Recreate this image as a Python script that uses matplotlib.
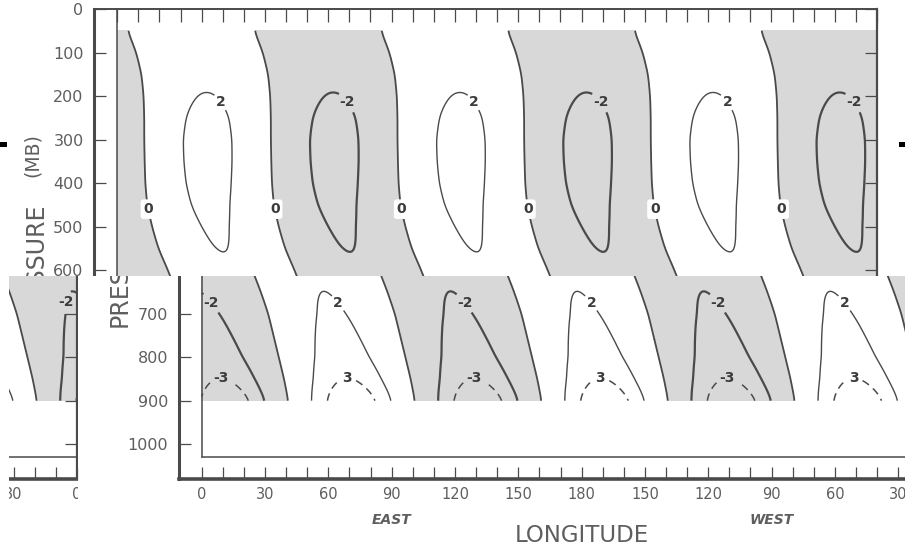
import numpy as np
import matplotlib
matplotlib.use("Agg")
import matplotlib.pyplot as plt
from matplotlib.ticker import FixedLocator
from matplotlib.transforms import Bbox, TransformedBbox
from matplotlib.patches import Rectangle
from matplotlib.text import Text

W, H = 905, 546
INK = "#4a4a4a"
TEXT = "#5e5e5e"
SHADE = "#d8d8d8"

# wave: amplitude and longitude of the first zero line
P_LEVELS = [50, 100, 150, 200, 250, 300, 350, 400, 450, 500, 550, 600,
            650, 700, 750, 800, 850, 900]
AMPLITUDE = [0.8, 1.3, 1.75, 2.05, 2.32, 2.43, 2.42, 2.36, 2.25, 2.12, 2.02, 1.9,
             2.0, 2.13, 2.32, 2.55, 3.0, 3.67]
PHASE = [5, 9, 11.5, 12.5, 12.8, 12.8, 13.0, 13.3, 14.2, 16.5, 19.5, 24,
         28, 31.5, 34, 36.5, 39, 41]

LON_TICKS = list(range(0, 361, 30))
LON_LABELS = ["0", "30", "60", "90", "120", "150", "180",
              "150", "120", "90", "60", "30", "0"]
P_TICKS = list(range(0, 1001, 100))
P_LABELS = [str(v) for v in P_TICKS]


def build_field():
    p = np.arange(50, 901, 2.0)
    lon = np.linspace(0, 360, 721)
    amp = np.interp(p, P_LEVELS, AMPLITUDE)
    ph = np.interp(p, P_LEVELS, PHASE)
    # light smoothing so the contours do not kink at the read levels
    k = np.exp(-0.5 * (np.arange(-15, 16) / 6.0) ** 2)
    k /= k.sum()
    amp = np.convolve(np.pad(amp, 15, mode="edge"), k, mode="valid")
    ph = np.convolve(np.pad(ph, 15, mode="edge"), k, mode="valid")
    f = amp[:, None] * np.sin(np.deg2rad(3 * (lon[None, :] - ph[:, None])))
    return lon, p, f


def phase_at(p):
    return float(np.interp(p, P_LEVELS, PHASE))


def label_spots():
    zero = [(phase_at(460) + 60 * k, 460) for k in range(6)]
    up = phase_at(222) + 30 + 4
    pos_up = [(up + 120 * k, 222) for k in range(3)]
    neg_up = [(up + 60 + 120 * k, 222) for k in range(3)]
    lo = phase_at(672) + 30 + 6
    pos_lo = [(lo + 120 * k, 672) for k in range(3)]
    neg_lo = [((lo + 60 + 120 * k) % 360, 672) for k in range(3)] + [(352, 672)]
    c3 = phase_at(848) + 30
    three = [(c3 + 120 * k, 848) for k in range(3)] + \
            [((c3 + 60 + 120 * k) % 360, 848) for k in range(3)]
    return zero, pos_up, neg_up, pos_lo, neg_lo, three


def draw_chart(fig, dx, lon, p, f):
    ax = fig.add_axes([(94 + dx) / W, (H - 479) / H, 783 / W, 470 / H])
    ax.set_facecolor("none")
    ax.set_xlim(-11, 360)
    ax.set_ylim(1080, 0)

    ax.contourf(lon, p, f, levels=[-100, 0], colors=[SHADE])
    cs0 = ax.contour(lon, p, f, levels=[0], colors=INK, linewidths=1.3)
    csp = ax.contour(lon, p, f, levels=[2], colors=INK, linewidths=1.0)
    csn = ax.contour(lon, p, f, levels=[-2], colors=INK, linewidths=1.6,
                     linestyles="solid")
    cs3 = ax.contour(lon, p, f, levels=[-3, 3], colors=INK, linewidths=1.1,
                     linestyles=[(0, (5, 3.5))])

    zero, pos_up, neg_up, pos_lo, neg_lo, three = label_spots()
    lab = dict(inline=True, fontsize=10, fmt=lambda v: f"{v:.0f}", inline_spacing=5)
    t0 = ax.clabel(cs0, manual=zero, **lab)
    for t in t0:
        t.set_bbox(dict(boxstyle="round,pad=0.2", fc="white", ec="none"))
    texts = list(t0)
    texts += ax.clabel(csp, manual=pos_up + pos_lo, **lab)
    texts += ax.clabel(csn, manual=neg_up + neg_lo, **lab)
    texts += ax.clabel(cs3, manual=three, **lab)
    for t in texts:
        t.set_rotation(0)
        t.set_color("#3c3c3c")
        t.set_fontweight("bold")

    # inner frame: longitude 0 line and the bottom line
    ax.axvline(0, ymin=50 / 1080, ymax=1, color=INK, lw=1.1)
    ax.axhline(1030, xmin=11 / 371, xmax=1, color=INK, lw=1.1)

    for side, lw in (("left", 2.2), ("bottom", 2.6), ("top", 1.4), ("right", 1.6)):
        ax.spines[side].set_linewidth(lw)
        ax.spines[side].set_color(INK)

    ax.xaxis.set_major_locator(FixedLocator(LON_TICKS))
    ax.set_xticklabels(LON_LABELS)
    ax.xaxis.set_minor_locator(FixedLocator(list(range(0, 361, 10))))
    ax.tick_params(axis="x", which="both", direction="in", top=True, bottom=True,
                   length=9, width=0.9, color=INK)
    ax.tick_params(axis="x", which="major", labelsize=10.5, labelcolor=TEXT, pad=6)

    ax.set_yticks(P_TICKS)
    ax.set_yticklabels(P_LABELS)
    ax.tick_params(axis="y", direction="in", left=True, right=True, length=8.5,
                   width=0.9, color=INK, labelsize=11.5, labelcolor=TEXT, pad=7.5)

    xt = ax.get_xaxis_transform()
    ax.text(90, -0.096, "EAST", transform=xt, ha="center", va="baseline",
            fontsize=10, style="italic", fontweight="semibold", color=TEXT)
    ax.text(270, -0.096, "WEST", transform=xt, ha="center", va="baseline",
            fontsize=10, style="italic", fontweight="semibold", color=TEXT)
    ax.text(180, -0.134, "LONGITUDE", transform=xt, ha="center", va="baseline",
            fontsize=16.5, color=TEXT)
    ax.text(-0.066, 0.455, "PRESSURE", transform=ax.transAxes, rotation=90,
            rotation_mode="anchor", ha="center", va="baseline", fontsize=17, color=TEXT)
    ax.text(-0.079, 0.69, "(MB)", transform=ax.transAxes, rotation=90,
            rotation_mode="anchor", ha="center", va="center", fontsize=13.5, color=TEXT)
    return ax


def main():
    lon, p, f = build_field()
    fig = plt.figure(figsize=(W / 100, H / 100), dpi=100)
    fig.patch.set_facecolor("white")

    split = (H - 276) / H
    # the scan: upper part in place, lower part slid right and wrapped
    pieces = [
        (0, (0, split, 1, 1)),
        (84.5, (78 / W, 0, 1, split)),
        (-800, (9 / W, 0, 78 / W, split)),
    ]
    axes = [(draw_chart(fig, dx, lon, p, f), box) for dx, box in pieces]

    for x0 in (0, 899):
        fig.add_artist(Rectangle((x0 / W, (H - 147) / H), 7 / W, 5 / H,
                                 transform=fig.transFigure, color="black", lw=0))

    fig.canvas.draw()
    renderer = fig.canvas.get_renderer()
    for ax, box in axes:
        clip = TransformedBbox(Bbox.from_extents(*box), fig.transFigure)
        window = clip.frozen()
        for art in ax.findobj(include_self=False):
            art.set_clip_on(True)
            art.set_clip_box(clip)
            # texts that fall wholly outside their piece are not drawn at all
            if isinstance(art, Text) and art.get_text():
                if not art.get_window_extent(renderer).overlaps(window):
                    art.set_visible(False)

    fig.savefig("out.png", dpi=100)
    plt.close(fig)


if __name__ == "__main__":
    main()
